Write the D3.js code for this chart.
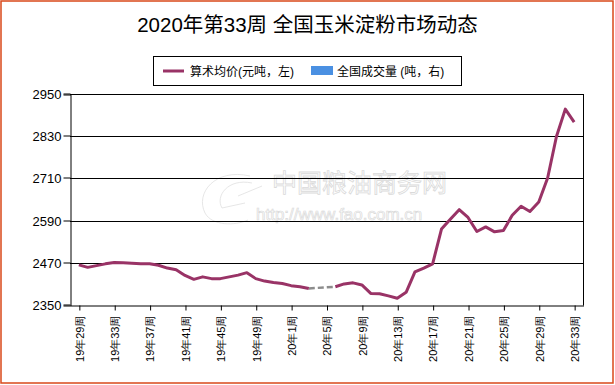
<!DOCTYPE html>
<html><head><meta charset="utf-8">
<script src="https://cdn.jsdelivr.net/npm/d3@7/dist/d3.min.js"></script>
<style>
html,body{margin:0;padding:0;background:#fff;}
svg{display:block;font-family:"Liberation Sans","Noto Sans CJK SC",Arial,sans-serif;}
</style></head>
<body>
<svg id="chart" width="615" height="385"></svg>
<script>
const title = "2020年第33周 全国玉米淀粉市场动态";
const seriesNames = ["算术均价(元吨，左)", "全国成交量 (吨，右)"];
const categories = [
  "19年29周","19年30周","19年31周","19年32周","19年33周","19年34周","19年35周","19年36周",
  "19年37周","19年38周","19年39周","19年40周","19年41周","19年42周","19年43周","19年44周",
  "19年45周","19年46周","19年47周","19年48周","19年49周","19年50周","19年51周","19年52周",
  "20年1周","20年2周","20年3周","20年4周","20年5周","20年6周","20年7周","20年8周",
  "20年9周","20年10周","20年11周","20年12周","20年13周","20年14周","20年15周","20年16周",
  "20年17周","20年18周","20年19周","20年20周","20年21周","20年22周","20年23周","20年24周",
  "20年25周","20年26周","20年27周","20年28周","20年29周","20年30周","20年31周","20年32周",
  "20年33周"
];
const avgPrice = [
  2464,2457,2462,2467,2471,2470,2469,2467,
  2467,2463,2455,2450,2434,2423,2430,2425,
  2425,2430,2435,2442,2425,2418,2414,2411,
  2405,2402,2397,null,null,2402,2410,2413,
  2407,2383,2382,2376,2369,2386,2444,2455,
  2467,2566,2594,2621,2599,2559,2572,2558,
  2562,2605,2631,2616,2643,2711,2829,2907,
  2870
];
const yTicks = [2350,2470,2590,2710,2830,2950];
const xLabelEvery = 4;

const svg = d3.select("#chart");
const W = 615, H = 385;
const m = {left:70, right:583, top:94, bottom:305};

// border
svg.append("rect").attr("x",1).attr("y",1).attr("width",W-3).attr("height",H-3)
  .attr("fill","#fff").attr("stroke","#d9481a").attr("stroke-width",1.5);

// title
svg.append("text").attr("x",W/2).attr("y",32).attr("text-anchor","middle")
  .attr("font-size",20.5).attr("fill","#000").text(title);

// legend
const lg = svg.append("g");
lg.append("rect").attr("x",153.5).attr("y",56.5).attr("width",308).attr("height",29)
  .attr("fill","#fff").attr("stroke","#000").attr("stroke-width",1);
lg.append("line").attr("x1",163).attr("x2",184).attr("y1",71).attr("y2",71)
  .attr("stroke","#993366").attr("stroke-width",3);
lg.append("text").attr("x",190).attr("y",75.5).attr("font-size",12).text(seriesNames[0]);
lg.append("rect").attr("x",311).attr("y",66).attr("width",22).attr("height",9).attr("fill","#4a90e2");
lg.append("text").attr("x",337).attr("y",75.5).attr("font-size",12).text(seriesNames[1]);

const x = d3.scalePoint().domain(categories).range([m.left, m.right]).padding(1);
const y = d3.scaleLinear().domain([2350,2950]).range([m.bottom, m.top]);

// watermark
const wm = svg.append("g").attr("fill","none").attr("stroke","#e0e0e0").attr("stroke-width",0.8);
wm.append("path").attr("d","M250,176 C215,168 195,193 205,213 C212,226 235,226 248,220 M252,183 C228,178 215,196 222,208 L245,203 M238,196 L262,186");
wm.append("text").attr("x",272).attr("y",192).attr("font-size",25)
  .attr("font-family","Noto Sans CJK SC").attr("fill","#fff").attr("stroke","#dadada")
  .attr("stroke-width",0.8).text("中国粮油商务网");
wm.append("text").attr("x",256).attr("y",220).attr("font-size",17)
  .attr("fill","#fff").attr("stroke","#dadada").attr("stroke-width",0.7).text("http://www.fao.com.cn");

// gridlines
svg.append("g").selectAll("line").data(yTicks.slice(1)).join("line")
  .attr("x1",m.left).attr("x2",m.right)
  .attr("y1",d=>Math.round(y(d))+0.5).attr("y2",d=>Math.round(y(d))+0.5)
  .attr("stroke","#000").attr("stroke-width",1);
// right border
svg.append("line").attr("x1",m.right+0.5).attr("x2",m.right+0.5)
  .attr("y1",m.top).attr("y2",m.bottom+0.5).attr("stroke","#000");

// y axis
const yAxis = svg.append("g").attr("transform",`translate(${m.left+0.5},0.5)`)
  .call(d3.axisLeft(y).tickValues(yTicks).tickSize(7).tickPadding(2).tickFormat(d3.format("d")));
yAxis.select(".domain").attr("stroke","#000");
yAxis.selectAll(".tick line").attr("stroke","#000");
yAxis.selectAll("text").attr("font-size",13).attr("fill","#000")
  .attr("font-family","Liberation Sans, Arial, sans-serif");
yAxis.selectAll(".tick line").attr("transform","translate(0,-0.5)");
yAxis.selectAll(".tick").attr("transform",d=>`translate(0,${Math.round(y(d))})`);

// x axis
const xAxis = svg.append("g").attr("transform",`translate(0.5,${m.bottom+0.5})`)
  .call(d3.axisBottom(x).tickValues(categories.filter((d,i)=>i%xLabelEvery===0))
    .tickSize(5).tickSizeOuter(0));
xAxis.select(".domain").attr("stroke","#000");
xAxis.selectAll(".tick line").attr("stroke","#000");
xAxis.selectAll("text").attr("font-size",11).attr("fill","#000")
  .attr("text-anchor","end").attr("transform","rotate(-90)")
  .attr("x",-10).attr("y",0).attr("dy","0.35em");

// gap line (dashed gray)
const lineGen = d3.line().x(d=>x(d.c)).y(d=>y(d.v));
const pts = avgPrice.map((v,i)=>({c:categories[i],v,i}));
for(let i=1;i<pts.length;i++){
  if(pts[i].v===null && pts[i-1].v!==null){
    let j=i; while(j<pts.length && pts[j].v===null) j++;
    if(j<pts.length){
      svg.append("path").attr("d",lineGen([pts[i-1],pts[j]]))
        .attr("fill","none").attr("stroke","#8c8c8c").attr("stroke-width",2.5)
        .attr("stroke-dasharray","6,3");
    }
  }
}
svg.append("path").datum(pts)
  .attr("d",d3.line().defined(d=>d.v!==null).x(d=>x(d.c)).y(d=>y(d.v)))
  .attr("fill","none").attr("stroke","#993366").attr("stroke-width",3)
  .attr("stroke-linejoin","round");
</script>
</body></html>
